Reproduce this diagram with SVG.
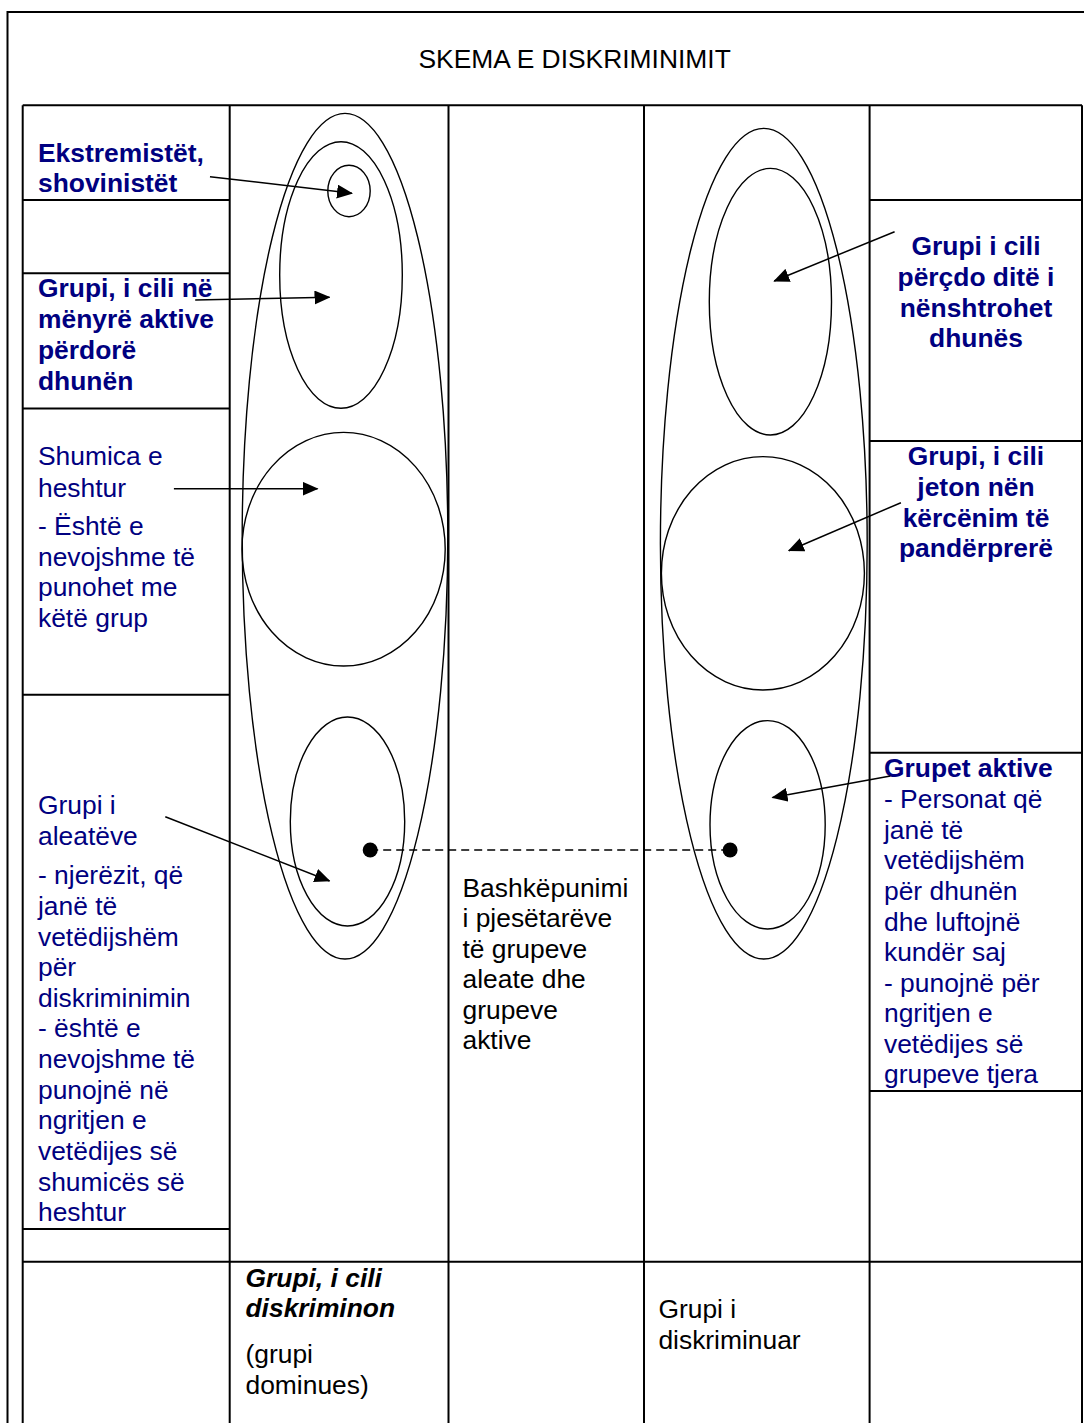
<svg xmlns="http://www.w3.org/2000/svg" width="1084" height="1423" viewBox="0 0 1084 1423">
<style>
  .ln { stroke: #000; stroke-width: 2; fill: none; }
  .el { stroke: #000; stroke-width: 1.4; fill: none; }
  .ar { stroke: #000; stroke-width: 1.5; fill: none; marker-end: url(#ah); }
  text { font-family: "Liberation Sans", Arial, sans-serif; font-size: 26.4px; }
  .b { fill: #000080; }
  .bb { fill: #000080; font-weight: bold; }
  .k { fill: #000; }
  .kbi { fill: #000; font-weight: bold; font-style: italic; }
  .c { text-anchor: middle; }
</style>
<defs>
  <marker id="ah" markerUnits="userSpaceOnUse" markerWidth="16" markerHeight="14" refX="15" refY="7" orient="auto">
    <path d="M0,0 L16,7 L0,14 Z" fill="#000"/>
  </marker>
</defs>
<rect width="1084" height="1423" fill="#fff"/>

<g id="frame">
  <rect class="ln" x="7.5" y="12" width="1100" height="1430"/>
</g>

<g id="title">
  <text class="k c" x="574.6" y="68.3">SKEMA E DISKRIMINIMIT</text>
</g>

<g id="table">
  <line class="ln" x1="22.7" y1="105.3" x2="1082" y2="105.3"/>
  <line class="ln" x1="22.7" y1="105.3" x2="22.7" y2="1423"/>
  <line class="ln" x1="229.7" y1="105.3" x2="229.7" y2="1423"/>
  <line class="ln" x1="448.5" y1="105.3" x2="448.5" y2="1423"/>
  <line class="ln" x1="644" y1="105.3" x2="644" y2="1423"/>
  <line class="ln" x1="869.6" y1="105.3" x2="869.6" y2="1423"/>
  <line class="ln" x1="1082" y1="105.3" x2="1082" y2="1423"/>
  <line class="ln" x1="22.7" y1="200" x2="229.7" y2="200"/>
  <line class="ln" x1="22.7" y1="273.3" x2="229.7" y2="273.3"/>
  <line class="ln" x1="22.7" y1="408.5" x2="229.7" y2="408.5"/>
  <line class="ln" x1="22.7" y1="694.7" x2="229.7" y2="694.7"/>
  <line class="ln" x1="22.7" y1="1229" x2="229.7" y2="1229"/>
  <line class="ln" x1="869.6" y1="200" x2="1082" y2="200"/>
  <line class="ln" x1="869.6" y1="441" x2="1082" y2="441"/>
  <line class="ln" x1="869.6" y1="752.7" x2="1082" y2="752.7"/>
  <line class="ln" x1="869.6" y1="1091" x2="1082" y2="1091"/>
  <line class="ln" x1="22.7" y1="1261.7" x2="1082" y2="1261.7"/>
</g>

<g id="dominant-group">
  <ellipse class="el" cx="345" cy="536.2" rx="102.8" ry="422.8"/>
  <ellipse class="el" cx="341" cy="275" rx="61.3" ry="133.3"/>
  <ellipse class="el" cx="349" cy="191" rx="21.2" ry="25.7"/>
  <ellipse class="el" cx="343.6" cy="549.2" rx="101.6" ry="116.8"/>
  <ellipse class="el" cx="347.5" cy="821.5" rx="57.2" ry="104.5"/>
</g>

<g id="discriminated-group">
  <ellipse class="el" cx="763.8" cy="543.7" rx="103.4" ry="415.3"/>
  <ellipse class="el" cx="770.4" cy="301.7" rx="61.1" ry="133.3"/>
  <ellipse class="el" cx="762.9" cy="573.3" rx="101.5" ry="116.7"/>
  <ellipse class="el" cx="767.6" cy="824.8" rx="57.6" ry="104.2"/>
</g>

<g id="label-extremists">
  <text class="bb" x="38"><tspan x="38" y="161.7">Ekstremistët,</tspan><tspan x="38" y="191.7">shovinistët</tspan></text>
</g>

<g id="label-active-violence">
  <text class="bb"><tspan x="38" y="297">Grupi, i cili në</tspan><tspan x="38" y="328">mënyrë aktive</tspan><tspan x="38" y="359">përdorë</tspan><tspan x="38" y="390">dhunën</tspan></text>
</g>

<g id="label-silent-majority">
  <text class="b"><tspan x="38" y="465">Shumica e</tspan><tspan x="38" y="496.5">heshtur</tspan><tspan x="38" y="535">- Është e</tspan><tspan x="38" y="565.5">nevojshme të</tspan><tspan x="38" y="596">punohet me</tspan><tspan x="38" y="626.5">këtë grup</tspan></text>
</g>

<g id="label-allies">
  <text class="b"><tspan x="38" y="814">Grupi i</tspan><tspan x="38" y="845">aleatëve</tspan><tspan x="38" y="884">- njerëzit, që</tspan><tspan x="38" y="914.5">janë të</tspan><tspan x="38" y="945.5">vetëdijshëm</tspan><tspan x="38" y="976">për</tspan><tspan x="38" y="1006.5">diskriminimin</tspan><tspan x="38" y="1037">- është e</tspan><tspan x="38" y="1068">nevojshme të</tspan><tspan x="38" y="1098.5">punojnë në</tspan><tspan x="38" y="1129">ngritjen e</tspan><tspan x="38" y="1160">vetëdijes së</tspan><tspan x="38" y="1190.5">shumicës së</tspan><tspan x="38" y="1221">heshtur</tspan></text>
</g>

<g id="label-daily-violence">
  <text class="bb c"><tspan x="976" y="255">Grupi i cili</tspan><tspan x="976" y="286">përçdo ditë i</tspan><tspan x="976" y="316.5">nënshtrohet</tspan><tspan x="976" y="347">dhunës</tspan></text>
</g>

<g id="label-threat">
  <text class="bb c"><tspan x="976" y="465">Grupi, i cili</tspan><tspan x="976" y="496">jeton nën</tspan><tspan x="976" y="526.5">kërcënim të</tspan><tspan x="976" y="557">pandërprerë</tspan></text>
</g>

<g id="label-active-groups">
  <text class="bb" x="884" y="777">Grupet aktive</text>
  <text class="b"><tspan x="884" y="808">- Personat që</tspan><tspan x="884" y="838.5">janë të</tspan><tspan x="884" y="869">vetëdijshëm</tspan><tspan x="884" y="900">për dhunën</tspan><tspan x="884" y="930.5">dhe luftojnë</tspan><tspan x="884" y="961">kundër saj</tspan><tspan x="884" y="991.5">- punojnë për</tspan><tspan x="884" y="1022">ngritjen e</tspan><tspan x="884" y="1052.5">vetëdijes së</tspan><tspan x="884" y="1083">grupeve tjera</tspan></text>
</g>

<g id="label-cooperation">
  <text class="k"><tspan x="462.5" y="896.7">Bashkëpunimi</tspan><tspan x="462.5" y="927">i pjesëtarëve</tspan><tspan x="462.5" y="957.5">të grupeve</tspan><tspan x="462.5" y="988">aleate dhe</tspan><tspan x="462.5" y="1018.5">grupeve</tspan><tspan x="462.5" y="1049">aktive</tspan></text>
</g>

<g id="label-discriminating">
  <text class="kbi"><tspan x="245.5" y="1286.7">Grupi, i cili</tspan><tspan x="245.5" y="1317">diskriminon</tspan></text>
  <text class="k"><tspan x="245.5" y="1363.3">(grupi</tspan><tspan x="245.5" y="1394">dominues)</tspan></text>
</g>

<g id="label-discriminated">
  <text class="k"><tspan x="658.4" y="1318.3">Grupi i</tspan><tspan x="658.4" y="1349">diskriminuar</tspan></text>
</g>

<g id="connectors">
  <line class="ar" x1="210" y1="176.7" x2="352" y2="193.3"/>
  <line class="ar" x1="195.2" y1="300" x2="329.5" y2="297.3"/>
  <line class="ar" x1="173.9" y1="488.7" x2="317.5" y2="488.7"/>
  <line class="ar" x1="165.3" y1="816.7" x2="329.5" y2="881"/>
  <line class="ar" x1="894.6" y1="231.7" x2="774.2" y2="281"/>
  <line class="ar" x1="900.9" y1="502.7" x2="788.8" y2="550.7"/>
  <line class="ar" x1="890.4" y1="776" x2="772.5" y2="797.5"/>
  <line x1="370.2" y1="850" x2="730.1" y2="850" stroke="#000" stroke-width="1.5" stroke-dasharray="8,5"/>
  <circle cx="370.2" cy="850" r="7.5" fill="#000"/>
  <circle cx="730.1" cy="850" r="7.5" fill="#000"/>
</g>
</svg>
